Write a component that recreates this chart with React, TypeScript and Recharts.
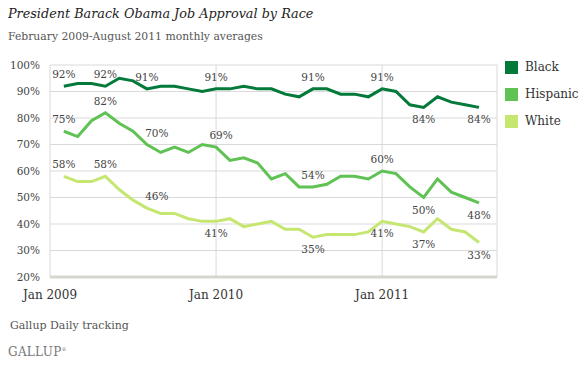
import React from 'react';
import { LineChart, Line, XAxis, YAxis, CartesianGrid } from 'recharts';

const months = [
  'Feb 2009', 'Mar 2009', 'Apr 2009', 'May 2009', 'Jun 2009', 'Jul 2009', 'Aug 2009', 'Sep 2009', 'Oct 2009', 'Nov 2009', 'Dec 2009',
  'Jan 2010', 'Feb 2010', 'Mar 2010', 'Apr 2010', 'May 2010', 'Jun 2010', 'Jul 2010', 'Aug 2010', 'Sep 2010', 'Oct 2010', 'Nov 2010', 'Dec 2010',
  'Jan 2011', 'Feb 2011', 'Mar 2011', 'Apr 2011', 'May 2011', 'Jun 2011', 'Jul 2011', 'Aug 2011',
];

const black = [92, 93, 93, 92, 95, 94, 91, 92, 92, 91, 90, 91, 91, 92, 91, 91, 89, 88, 91, 91, 89, 89, 88, 91, 90, 85, 84, 88, 86, 85, 84];
const hispanic = [75, 73, 79, 82, 78, 75, 70, 67, 69, 67, 70, 69, 64, 65, 63, 57, 59, 54, 54, 55, 58, 58, 57, 60, 59, 54, 50, 57, 52, 50, 48];
const white = [58, 56, 56, 58, 53, 49, 46, 44, 44, 42, 41, 41, 42, 39, 40, 41, 38, 38, 35, 36, 36, 36, 37, 41, 40, 39, 37, 42, 38, 37, 33];

const xTicks = [0, 12, 24];
const xTickLabels = ['Jan 2009', 'Jan 2010', 'Jan 2011'];
const yTicks = [20, 30, 40, 50, 60, 70, 80, 90, 100];

// months that carry a value label, per series
const blackLabels = ['Feb 2009', 'May 2009', 'Aug 2009', 'Jan 2010', 'Aug 2010', 'Jan 2011', 'Apr 2011', 'Aug 2011'];
const hispanicLabels = ['Feb 2009', 'May 2009', 'Aug 2009', 'Jan 2010', 'Aug 2010', 'Jan 2011', 'Apr 2011', 'Aug 2011'];
const whiteLabels = ['Feb 2009', 'May 2009', 'Aug 2009', 'Jan 2010', 'Aug 2010', 'Jan 2011', 'Apr 2011', 'Aug 2011'];

const data = months.map((m, i) => ({
  m: i + 1,
  month: m,
  black: black[i],
  hispanic: hispanic[i],
  white: white[i],
}));

const FONT = '"DejaVu Serif", serif';
const C_BLACK = '#03793a';
const C_HISP = '#5fc253';
const C_WHITE = '#c6e672';

// labels sit below the line from Jan 2010 onwards for white, from Apr 2011 for the others
const placement = (series: string, month: string): { dx: number; dy: number } => {
  const below =
    (series === 'white' && ['Jan 2010', 'Aug 2010', 'Jan 2011', 'Apr 2011', 'Aug 2011'].includes(month)) ||
    (series !== 'white' && ['Apr 2011', 'Aug 2011'].includes(month));
  let dx = 0;
  if (month === 'Aug 2009' && series !== 'black') dx = 10;
  if (month === 'Jan 2010' && series === 'hispanic') dx = 5;
  return { dx, dy: below ? 16 : -8 };
};

const makeLabel = (series: string, marked: string[]) => (props: any) => {
  const { x, y, index, value } = props;
  const month = months[index];
  if (!marked.includes(month)) return null;
  const { dx, dy } = placement(series, month);
  return (
    <text key={`${series}-${index}`} x={x + dx} y={y + dy} textAnchor="middle" fontFamily={FONT} fontSize={10.5} fill="#444">
      {value}%
    </text>
  );
};

const legend = [
  { name: 'Black', color: C_BLACK },
  { name: 'Hispanic', color: C_HISP },
  { name: 'White', color: C_WHITE },
];

export default function App() {
  return (
    <div style={{ position: 'relative', width: 586, height: 372, margin: -8, background: '#fff', fontFamily: FONT, overflow: 'hidden' }}>
      <div style={{ position: 'absolute', left: 8, top: 6, fontSize: 12.8, fontStyle: 'italic', color: '#222', whiteSpace: 'nowrap' }}>
        President Barack Obama Job Approval by Race
      </div>
      <div style={{ position: 'absolute', left: 8, top: 30, fontSize: 10.8, color: '#555', whiteSpace: 'nowrap' }}>
        February 2009-August 2011 monthly averages
      </div>
      <LineChart
        width={586}
        height={372}
        data={data}
        margin={{ top: 65, right: 89, bottom: 65, left: 0 }}
        style={{ position: 'absolute', left: 0, top: 0 }}
      >
        <CartesianGrid stroke="#d9d9d9" strokeWidth={1} />
        <XAxis
          type="number"
          dataKey="m"
          height={30}
          domain={[0, 32.3]}
          ticks={xTicks}
          tickFormatter={(v: number) => xTickLabels[xTicks.indexOf(v)]}
          tickLine={false}
          axisLine={{ stroke: '#d6d6cf', strokeWidth: 3 }}
          tickMargin={7}
          tick={{ fontFamily: FONT, fontSize: 12, fill: '#333' }}
          interval={0}
        />
        <YAxis
          width={50}
          domain={[20, 100]}
          ticks={yTicks}
          tickFormatter={(v: number) => `${v}%`}
          tickLine={false}
          axisLine={false}
          tickMargin={4}
          tick={{ fontFamily: FONT, fontSize: 10.5, fill: '#444' }}
          interval={0}
        />
        <Line dataKey="white" stroke={C_WHITE} strokeWidth={3} dot={false} isAnimationActive={false} label={makeLabel('white', whiteLabels)} />
        <Line dataKey="hispanic" stroke={C_HISP} strokeWidth={3} dot={false} isAnimationActive={false} label={makeLabel('hispanic', hispanicLabels)} />
        <Line dataKey="black" stroke={C_BLACK} strokeWidth={3} dot={false} isAnimationActive={false} label={makeLabel('black', blackLabels)} />
      </LineChart>
      {legend.map((l, i) => (
        <div key={l.name} style={{ position: 'absolute', left: 505, top: 60 + i * 27, display: 'flex', alignItems: 'center' }}>
          <div style={{ width: 13, height: 13, background: l.color }} />
          <span style={{ marginLeft: 7, fontSize: 12, color: '#333' }}>{l.name}</span>
        </div>
      ))}
      <div style={{ position: 'absolute', left: 10, top: 319, fontSize: 11, color: '#555', whiteSpace: 'nowrap' }}>
        Gallup Daily tracking
      </div>
      <div style={{ position: 'absolute', left: 8, top: 345, fontSize: 12, color: '#777', letterSpacing: 0.3 }}>
        GALLUP<sup style={{ fontSize: 5 }}>®</sup>
      </div>
    </div>
  );
}
